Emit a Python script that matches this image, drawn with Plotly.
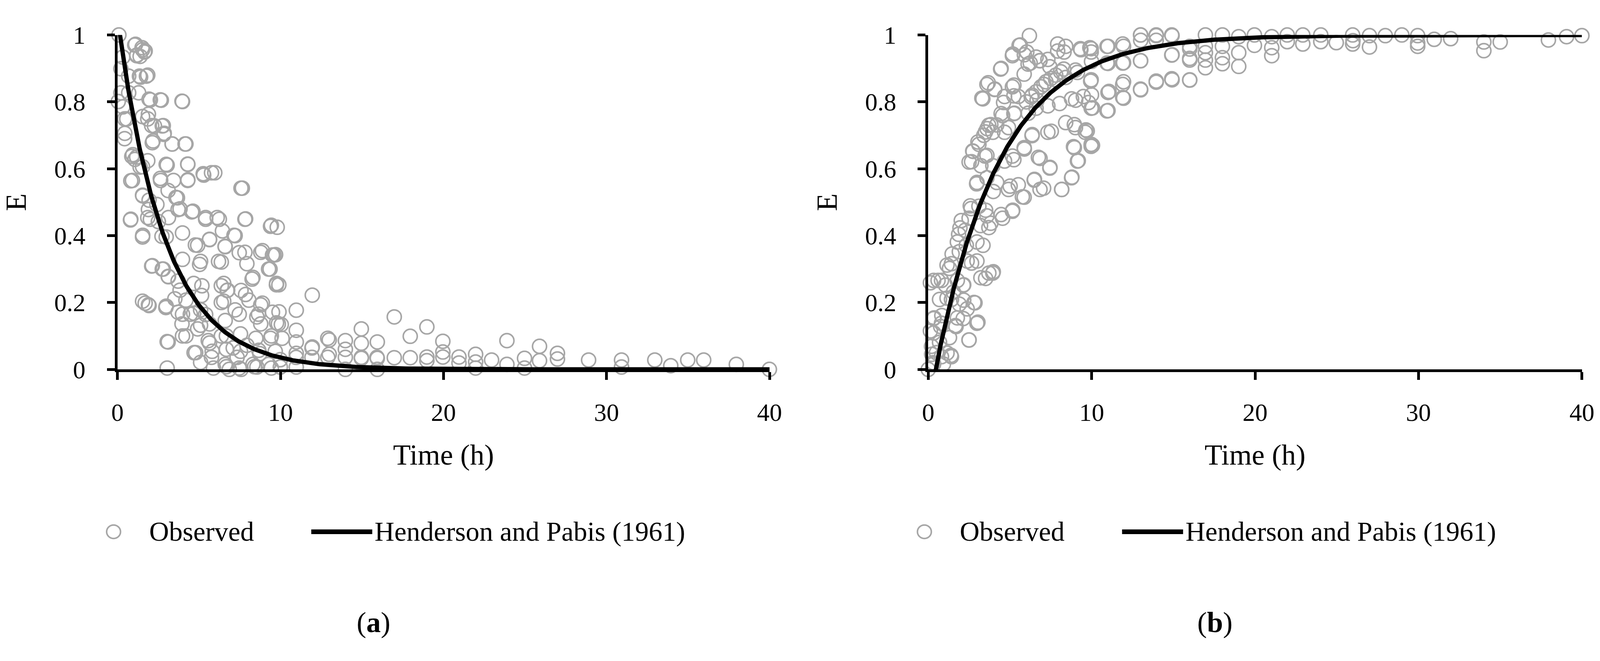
import math
import plotly.graph_objects as go

W, H = 4142, 1693

# ---------------- data ----------------
# Panel (a): observed E vs time (h)
t_a = [0.09, 1.11, 1.51, 1.70, 1.19, 1.39, 1.35, 1.86, 1.94, 2.69, 3.99, 0.05, 0.44, 1.86, 2.10, 2.81,
       2.85, 0.44, 2.18, 3.36, 4.15, 0.88, 1.07, 1.39, 1.86, 3.05, 4.31, 5.26, 5.97, 0.92, 2.65, 4.31,
       3.44, 7.66, 1.55, 3.68, 1.94, 2.42, 3.84, 4.63, 0.80, 1.86, 3.13, 5.41, 6.12, 7.86, 9.44, 1.55,
       2.73, 3.99, 4.78, 5.65, 6.44, 7.15, 7.47, 8.89, 9.60, 6.60, 2.10, 2.81, 3.99, 5.10, 6.20, 7.94,
       9.36, 3.13, 5.18, 6.52, 6.76, 8.26, 9.76, 3.84, 1.70, 1.94, 2.97, 3.52, 3.99, 4.47, 5.10, 6.52,
       7.86, 8.89, 7.47, 8.65, 9.76, 9.91, 3.05, 3.99, 5.10, 5.57, 6.68, 7.55, 8.49, 9.44, 4.70, 5.81,
       6.68, 7.55, 8.73, 9.68, 3.05, 5.89, 6.68, 7.47, 8.41, 9.44, 5.10,
       1.06, 1.54, 1.18, 1.66, 0.33, 0.21, 0.69, 1.42, 1.78, 0.21, 0.69, 1.30, 2.02, 2.63, 3.96, 0.33,
       0.57, 0.45, 1.54, 1.90, 2.27, 2.75, 2.87, 3.35, 4.20, 2.14, 0.94, 1.18, 1.54, 2.99, 4.32, 5.29,
       5.77, 0.82, 2.63, 4.32, 7.58, 1.54, 3.11, 3.59, 1.90, 3.72, 4.56, 5.41, 6.25, 7.82, 9.39, 0.82,
       2.02, 2.51, 1.54, 2.99, 4.92, 5.65, 6.61, 7.22, 7.82, 8.79, 9.51, 9.27, 6.37, 5.04, 2.14, 2.75,
       3.11, 3.72, 4.68, 6.37, 7.58, 8.31, 9.75, 5.16, 6.73, 1.54, 1.90, 2.99, 3.72, 4.20, 4.68, 5.41,
       6.37, 7.22, 8.06, 8.79, 9.51, 8.55, 6.61, 5.65, 4.92, 3.96, 8.79, 9.87, 3.11, 4.20, 4.80, 5.65,
       6.37, 7.10, 7.94, 8.67, 9.39, 10.10, 5.77, 6.61, 7.34, 8.31, 9.27, 9.99, 6.86, 7.58, 8.55, 9.99,
       9.80, 9.70, 9.90, 11.95, 10.97, 10.05, 10.97, 10.97, 10.97, 10.97, 12.99, 11.95, 12.99, 13.98,
       13.98, 13.98, 14.96, 14.96, 14.96, 15.94, 15.94, 15.94, 16.98, 16.98, 17.96, 17.96, 18.98, 18.98,
       18.98, 19.96, 19.96, 19.96, 20.95, 20.95, 21.97, 21.97, 21.97, 22.95, 23.89, 23.89, 24.97, 24.97,
       25.89, 25.89, 26.99, 26.99, 28.90, 30.92, 30.92, 32.96, 33.94, 34.98, 35.96, 37.96, 39.99,
       11.93, 12.90, 10.96, 11.93, 12.90, 13.98, 14.96, 15.92]
E_a = [1.000, 0.972, 0.962, 0.952, 0.940, 0.936, 0.877, 0.880, 0.808, 0.805, 0.801, 0.801, 0.749, 0.749, 0.729, 0.729,
       0.703, 0.690, 0.683, 0.674, 0.674, 0.637, 0.628, 0.605, 0.624, 0.611, 0.614, 0.585, 0.588, 0.565, 0.565, 0.565,
       0.565, 0.542, 0.519, 0.513, 0.506, 0.493, 0.480, 0.473, 0.447, 0.454, 0.454, 0.454, 0.454, 0.450, 0.431, 0.401,
       0.398, 0.408, 0.372, 0.388, 0.414, 0.401, 0.349, 0.355, 0.342, 0.368, 0.309, 0.300, 0.329, 0.323, 0.323, 0.316,
       0.300, 0.277, 0.250, 0.257, 0.237, 0.270, 0.257, 0.237, 0.198, 0.191, 0.185, 0.211, 0.165, 0.165, 0.178, 0.204,
       0.224, 0.198, 0.165, 0.165, 0.139, 0.172, 0.083, 0.100, 0.132, 0.086, 0.100, 0.106, 0.093, 0.100, 0.050, 0.054,
       0.060, 0.054, 0.047, 0.054, 0.004, 0.004, 0.008, 0.004, 0.008, 0.004, 0.021,
       0.970, 0.956, 0.938, 0.949, 0.934, 0.899, 0.877, 0.874, 0.877, 0.827, 0.827, 0.827, 0.806, 0.806, 0.802, 0.785,
       0.749, 0.706, 0.756, 0.763, 0.728, 0.728, 0.706, 0.674, 0.674, 0.678, 0.642, 0.635, 0.606, 0.613, 0.613, 0.581,
       0.588, 0.564, 0.571, 0.567, 0.542, 0.521, 0.535, 0.514, 0.478, 0.478, 0.471, 0.449, 0.449, 0.449, 0.428, 0.449,
       0.449, 0.442, 0.396, 0.396, 0.371, 0.389, 0.367, 0.400, 0.350, 0.350, 0.342, 0.300, 0.321, 0.314, 0.310, 0.300,
       0.278, 0.264, 0.257, 0.250, 0.236, 0.275, 0.253, 0.221, 0.236, 0.204, 0.193, 0.189, 0.171, 0.207, 0.168, 0.164,
       0.200, 0.178, 0.207, 0.193, 0.171, 0.157, 0.146, 0.136, 0.121, 0.136, 0.136, 0.136, 0.082, 0.100, 0.050, 0.079,
       0.100, 0.064, 0.072, 0.057, 0.093, 0.093, 0.036, 0.015, 0.036, 0.015, 0.015, 0.029, 0.000, 0.000, 0.007, 0.007,
       0.425, 0.343, 0.253, 0.222, 0.177, 0.134, 0.117, 0.082, 0.048, 0.007, 0.088, 0.067, 0.045, 0.086,
       0.060, 0.000, 0.121, 0.078, 0.033, 0.082, 0.033, 0.000, 0.157, 0.035, 0.099, 0.035, 0.127, 0.037,
       0.026, 0.084, 0.037, 0.052, 0.037, 0.019, 0.045, 0.022, 0.004, 0.028, 0.086, 0.015, 0.033, 0.004,
       0.069, 0.026, 0.048, 0.031, 0.028, 0.028, 0.007, 0.028, 0.011, 0.028, 0.028, 0.015, 0.000,
       0.064, 0.093, 0.036, 0.036, 0.036, 0.036, 0.036, 0.036]

# Panel (b): observed E vs time (h)
t_b = [6.19, 5.56, 5.17, 6.03, 6.11, 6.82, 8.31, 9.34, 9.97, 4.46, 5.87, 3.67, 4.06, 5.24, 3.28, 4.61,
       5.24, 6.66, 9.02, 9.81, 4.46, 5.24, 3.83, 7.53, 8.94, 9.65, 6.35, 3.04, 2.72, 3.59, 2.65, 5.87,
       8.94, 9.97, 6.74, 5.24, 7.45, 9.18, 2.96, 3.98, 5.01, 6.50, 7.06, 8.79, 8.16, 5.87, 2.57, 3.51,
       4.46, 5.17, 3.83, 1.94, 1.86, 3.20, 3.35, 2.33, 1.46, 1.15, 2.65, 3.98, 3.51, 0.13, 0.60, 1.78,
       2.17, 1.15, 2.17, 2.80, 0.36, 0.83, 1.78, 3.04, 0.13, 0.76, 1.70, 2.49, 0.20, 1.15, 1.39, 0.00,
       0.30, 0.50,
       5.63, 5.15, 5.88, 6.60, 7.32, 7.92, 8.41, 7.92, 9.31, 9.97, 10.94, 11.90, 12.99, 13.95, 14.92, 16.00,
       4.43, 6.24, 6.84, 7.44, 8.29, 9.01, 10.94, 11.90, 12.99, 14.92, 16.00, 3.59, 4.07, 5.15, 4.67, 3.34,
       5.51, 6.36, 7.08, 7.80, 8.41, 9.13, 9.97, 11.06, 11.90, 12.99, 13.95, 14.92, 16.00, 4.55, 5.27, 4.19,
       4.91, 6.12, 6.60, 7.32, 8.04, 8.77, 9.49, 9.97, 10.94, 11.90, 3.95, 4.67, 7.32, 8.41, 9.01, 9.61,
       9.97, 8.89, 6.36, 3.10, 2.74, 3.47, 2.50, 3.22, 3.95, 4.67, 5.15, 5.88, 6.84, 7.44, 9.13, 2.98,
       3.59, 4.19, 4.91, 5.51, 6.48, 6.84, 8.17, 8.77, 5.76, 2.62, 3.10, 3.59, 4.55, 5.15, 2.02, 2.50,
       3.71, 2.26, 2.98, 1.78, 1.90, 2.38, 2.98, 1.42, 1.30, 3.71, 3.95, 3.22, 0.33, 0.81, 1.05, 1.54,
       2.14, 0.69, 1.42, 1.90, 2.86, 2.38, 0.33, 0.81, 1.66, 2.14, 2.98, 2.50, 0.33, 0.69, 1.30, 0.21,
       0.81, 1.42, 0.33, 0.93,
       6.00, 6.30, 6.60, 6.90, 7.20, 7.50, 7.80, 8.10, 3.40, 3.50, 3.60, 3.70,
       9.89, 9.99, 9.94, 9.99, 10.05, 9.73, 10.05, 11.00, 11.00, 11.00, 11.00, 11.95, 11.95, 11.95, 11.95,
       13.00, 13.00, 13.00, 13.00, 13.95, 13.95, 13.95, 14.90, 14.90, 14.90, 16.00, 16.00, 16.00, 16.96,
       16.96, 16.96, 16.96, 16.96, 18.00, 18.00, 18.00, 18.00, 19.00, 19.00, 19.00, 19.96, 19.96, 21.02,
       21.02, 21.02, 21.97, 21.97, 22.92, 22.92, 24.02, 24.02, 24.97, 25.97, 25.97,
       25.99, 27.00, 27.00, 27.97, 28.98, 29.95, 29.95, 29.95, 30.96, 31.97, 34.00, 34.00, 35.00, 37.95,
       39.06, 40.00]
E_b = [0.998, 0.969, 0.943, 0.949, 0.913, 0.923, 0.949, 0.956, 0.949, 0.900, 0.883, 0.857, 0.837, 0.850, 0.811, 0.798,
       0.818, 0.805, 0.805, 0.798, 0.765, 0.765, 0.732, 0.712, 0.732, 0.716, 0.699, 0.680, 0.653, 0.640, 0.621, 0.663,
       0.663, 0.667, 0.634, 0.627, 0.604, 0.624, 0.555, 0.532, 0.548, 0.568, 0.542, 0.575, 0.538, 0.515, 0.489, 0.476,
       0.463, 0.476, 0.437, 0.423, 0.404, 0.430, 0.371, 0.371, 0.345, 0.312, 0.318, 0.292, 0.272, 0.259, 0.266, 0.266,
       0.253, 0.213, 0.207, 0.200, 0.154, 0.161, 0.154, 0.141, 0.115, 0.128, 0.128, 0.088, 0.069, 0.049, 0.042, 0.000,
       0.020, 0.050,
       0.970, 0.938, 0.941, 0.934, 0.927, 0.952, 0.966, 0.973, 0.959, 0.959, 0.966, 0.973, 1.000, 0.998, 0.998, 0.966,
       0.898, 0.916, 0.923, 0.905, 0.898, 0.895, 0.916, 0.916, 0.923, 0.941, 0.930, 0.852, 0.838, 0.845, 0.816, 0.809,
       0.816, 0.820, 0.852, 0.866, 0.873, 0.888, 0.866, 0.831, 0.852, 0.838, 0.859, 0.866, 0.866, 0.759, 0.766, 0.731,
       0.723, 0.766, 0.781, 0.788, 0.795, 0.809, 0.816, 0.781, 0.773, 0.813, 0.709, 0.709, 0.709, 0.738, 0.723, 0.709,
       0.673, 0.666, 0.702, 0.673, 0.652, 0.638, 0.620, 0.609, 0.609, 0.623, 0.638, 0.659, 0.631, 0.602, 0.623, 0.559,
       0.573, 0.559, 0.538, 0.552, 0.566, 0.538, 0.538, 0.573, 0.516, 0.481, 0.488, 0.459, 0.452, 0.473, 0.445, 0.452,
       0.424, 0.416, 0.381, 0.381, 0.352, 0.324, 0.324, 0.316, 0.302, 0.288, 0.288, 0.274, 0.266, 0.266, 0.252, 0.231,
       0.252, 0.209, 0.209, 0.195, 0.199, 0.181, 0.152, 0.138, 0.131, 0.152, 0.138, 0.088, 0.109, 0.081, 0.095, 0.045,
       0.038, 0.038, 0.016, 0.016,
       0.800, 0.815, 0.830, 0.845, 0.860, 0.870, 0.880, 0.890, 0.700, 0.710, 0.720, 0.730,
       0.962, 0.921, 0.862, 0.821, 0.782, 0.713, 0.670, 0.966, 0.915, 0.828, 0.774, 0.966, 0.917, 0.860, 0.811,
       1.000, 0.984, 0.923, 0.836, 1.000, 0.984, 0.862, 1.000, 0.940, 0.869, 0.958, 0.925, 0.865, 1.000,
       0.966, 0.947, 0.925, 0.902, 1.000, 0.966, 0.932, 0.914, 0.995, 0.947, 0.906, 1.000, 0.969, 0.995,
       0.962, 0.938, 1.000, 0.980, 1.000, 0.973, 1.000, 0.980, 0.977, 1.000, 0.973,
       0.983, 0.998, 0.964, 0.998, 1.000, 0.998, 0.976, 0.966, 0.987, 0.989, 0.979, 0.953, 0.979, 0.985,
       0.995, 0.998]

# Henderson and Pabis (1961) fitted model: E = a*exp(-k t) in (a), E = 1 - a*exp(-k t) in (b)
hp_a = {"a": 1.05, "k": 0.34}
hp_b = {"a": 1.12, "k": 0.25}
t_model = [i * 0.05 for i in range(0, 801)]

x_ticks = [0, 10, 20, 30, 40]
y_ticks = [0, 0.2, 0.4, 0.6, 0.8, 1]

legend_labels = ["Observed", "Henderson and Pabis (1961)"]
panel_labels = ["(<b>a</b>)", "(<b>b</b>)"]

# ---------------- styling ----------------
GRAY = "#A6A6A6"
FONT = "Liberation Serif"
TICK_SIZE = 64
TITLE_SIZE = 74
LEG_SIZE = 70

fig = go.Figure()

E_model_a = [hp_a["a"] * math.exp(-hp_a["k"] * t) for t in t_model]
E_model_b = [1 - hp_b["a"] * math.exp(-hp_b["k"] * t) for t in t_model]

for (tx, ey, em, xa, ya) in [(t_a, E_a, E_model_a, "x", "y"), (t_b, E_b, E_model_b, "x2", "y2")]:
    fig.add_trace(go.Scatter(x=tx, y=ey, mode="markers", xaxis=xa, yaxis=ya, name=legend_labels[0],
                             cliponaxis=False, showlegend=False,
                             marker=dict(symbol="circle-open", size=36, color=GRAY,
                                         line=dict(width=4, color=GRAY))))
    fig.add_trace(go.Scatter(x=t_model, y=em, mode="lines", xaxis=xa, yaxis=ya, name=legend_labels[1],
                             showlegend=False, line=dict(color="black", width=11)))

def px(x):
    return x / W

def py(y):
    return 1 - y / H

ax_common = dict(showgrid=False, zeroline=False, showline=True, linecolor="black", linewidth=7,
                 ticks="outside", ticklen=20, tickwidth=7, tickcolor="black",
                 tickfont=dict(family=FONT, size=TICK_SIZE, color="black"))

ydom = [py(951), py(57)]
fig.update_layout(
    width=W, height=H, margin=dict(l=0, r=0, t=0, b=0),
    paper_bgcolor="white", plot_bgcolor="white",
    font=dict(family=FONT, color="black"),
    xaxis=dict(domain=[px(288), px(1977)], range=[0, 40], tickvals=x_ticks, anchor="y",
               title=dict(text="Time (h)", font=dict(size=TITLE_SIZE), standoff=50),
               ticklabelstandoff=28, **ax_common),
    yaxis=dict(domain=ydom, range=[0, 1], tickvals=y_ticks, anchor="x",
               title=dict(text="E", font=dict(size=TITLE_SIZE), standoff=50),
               ticklabelstandoff=42, **ax_common),
    xaxis2=dict(domain=[px(2388), px(4081)], range=[0, 40], tickvals=x_ticks, anchor="y2",
                title=dict(text="Time (h)", font=dict(size=TITLE_SIZE), standoff=50),
                ticklabelstandoff=28, **ax_common),
    yaxis2=dict(domain=ydom, range=[0, 1], tickvals=y_ticks, anchor="x2",
                title=dict(text="E", font=dict(size=TITLE_SIZE), standoff=50),
                ticklabelstandoff=42, **ax_common),
)

# legends drawn below each panel, and panel labels
shapes = []
annotations = []
for off, lab in [(0, panel_labels[0]), (2100, panel_labels[1])]:
    mx = 278 + off
    shapes.append(dict(type="circle", xref="paper", yref="paper",
                       x0=px(mx - 18), x1=px(mx + 18), y0=py(1385 + 18), y1=py(1385 - 18),
                       line=dict(color=GRAY, width=4)))
    shapes.append(dict(type="line", xref="paper", yref="paper",
                       x0=px(790 + off), x1=px(948 + off), y0=py(1385), y1=py(1385),
                       line=dict(color="black", width=12)))
    annotations.append(dict(text=legend_labels[0], xref="paper", yref="paper", x=px(368 + off), y=py(1385),
                            xanchor="left", yanchor="middle", showarrow=False,
                            font=dict(family=FONT, size=LEG_SIZE, color="black")))
    annotations.append(dict(text=legend_labels[1], xref="paper", yref="paper", x=px(952 + off), y=py(1385),
                            xanchor="left", yanchor="middle", showarrow=False,
                            font=dict(family=FONT, size=LEG_SIZE, color="black")))
    cx = 951 if off == 0 else 3130
    annotations.append(dict(text=lab, xref="paper", yref="paper", x=px(cx), y=py(1627),
                            xanchor="center", yanchor="middle", showarrow=False,
                            font=dict(family=FONT, size=TITLE_SIZE, color="black")))
fig.update_layout(shapes=shapes, annotations=annotations)

fig.write_html("out.html", config={"displayModeBar": False},
               post_script="document.body.style.margin='0';")
